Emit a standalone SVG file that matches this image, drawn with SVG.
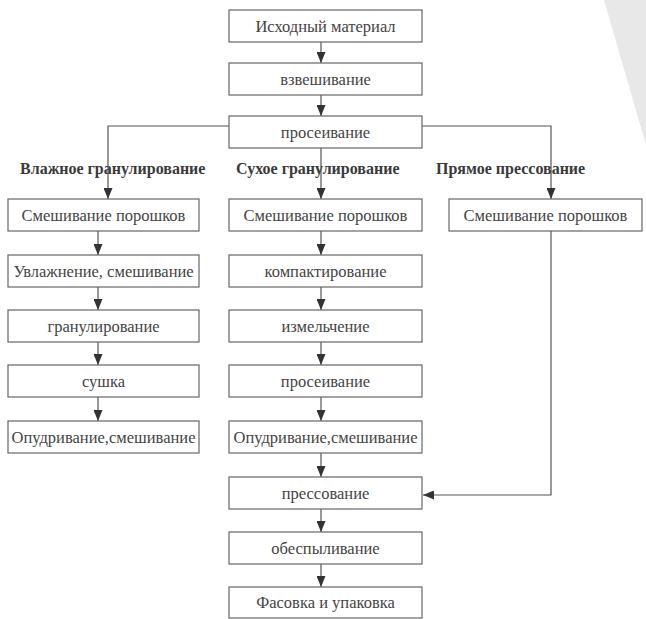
<svg xmlns="http://www.w3.org/2000/svg" width="646" height="619" viewBox="0 0 646 619">
<defs>
<marker id="ah" markerUnits="userSpaceOnUse" markerWidth="11" markerHeight="9" refX="11" refY="4.5" orient="auto">
<path d="M0,0 L11,4.5 L0,9 z" fill="#333"/>
</marker>
<style>
.b{fill:#fff;stroke:#666;stroke-width:1.2}
.t{font-family:"Liberation Serif","DejaVu Serif",serif;font-size:16.5px;fill:#444;text-anchor:middle}
.h{font-family:"Liberation Serif","DejaVu Serif",serif;font-size:16px;font-weight:bold;fill:#3a3a3a}
.c{fill:none;stroke:#555;stroke-width:1.2;marker-end:url(#ah)}
</style>
</defs>
<rect width="646" height="619" fill="#fff"/>
<polygon points="604,0 646,0 646,145" fill="#e8e8e8"/>
<g id="connectors">
<path class="c" d="M321,42 V63"/>
<path class="c" d="M321,95 V116"/>
<path class="c" d="M229,126 H108 V199"/>
<path class="c" d="M422,126 H551 V199"/>
<path class="c" d="M321,148 V199"/>
<path class="c" d="M98,231 V255"/>
<path class="c" d="M98,287 V310"/>
<path class="c" d="M98,342 V365"/>
<path class="c" d="M98,397 V421"/>
<path class="c" d="M321,231 V255"/>
<path class="c" d="M321,287 V310"/>
<path class="c" d="M321,342 V365"/>
<path class="c" d="M321,397 V421"/>
<path class="c" d="M321,453 V477"/>
<path class="c" d="M321,509 V532"/>
<path class="c" d="M321,564 V587"/>
<path class="c" d="M551,231 V495 H423"/>
</g>
<g id="n1"><rect class="b" x="229" y="10" width="193" height="32"/><text class="t" x="325.5" y="31.5">Исходный материал</text></g>
<g id="n2"><rect class="b" x="229" y="63" width="193" height="32"/><text class="t" x="325.5" y="84.5">взвешивание</text></g>
<g id="n3"><rect class="b" x="229" y="116" width="193" height="32"/><text class="t" x="325.5" y="137.5">просеивание</text></g>
<g id="lbl1"><text class="h" x="20" y="174">Влажное гранулирование</text></g>
<g id="lbl2"><text class="h" x="236" y="174">Сухое гранулирование</text></g>
<g id="lbl3"><text class="h" x="436" y="174">Прямое прессование</text></g>
<g id="w1"><rect class="b" x="8" y="199" width="191" height="32"/><text class="t" x="103.5" y="220.5">Смешивание порошков</text></g>
<g id="w2"><rect class="b" x="8" y="255" width="191" height="32"/><text class="t" x="103.5" y="276.5">Увлажнение, смешивание</text></g>
<g id="w3"><rect class="b" x="8" y="310" width="191" height="32"/><text class="t" x="103.5" y="331.5">гранулирование</text></g>
<g id="w4"><rect class="b" x="8" y="365" width="191" height="32"/><text class="t" x="103.5" y="386.5">сушка</text></g>
<g id="w5"><rect class="b" x="8" y="421" width="191" height="32"/><text class="t" x="103.5" y="442.5">Опудривание,смешивание</text></g>
<g id="d1"><rect class="b" x="229" y="199" width="193" height="32"/><text class="t" x="325.5" y="220.5">Смешивание порошков</text></g>
<g id="d2"><rect class="b" x="229" y="255" width="193" height="32"/><text class="t" x="325.5" y="276.5">компактирование</text></g>
<g id="d3"><rect class="b" x="229" y="310" width="193" height="32"/><text class="t" x="325.5" y="331.5">измельчение</text></g>
<g id="d4"><rect class="b" x="229" y="365" width="193" height="32"/><text class="t" x="325.5" y="386.5">просеивание</text></g>
<g id="d5"><rect class="b" x="229" y="421" width="193" height="32"/><text class="t" x="325.5" y="442.5">Опудривание,смешивание</text></g>
<g id="p1"><rect class="b" x="449" y="199" width="193" height="32"/><text class="t" x="545.5" y="220.5">Смешивание порошков</text></g>
<g id="m1"><rect class="b" x="229" y="477" width="193" height="32"/><text class="t" x="325.5" y="498.5">прессование</text></g>
<g id="m2"><rect class="b" x="229" y="532" width="193" height="32"/><text class="t" x="325.5" y="553.5">обеспыливание</text></g>
<g id="m3"><rect class="b" x="229" y="587" width="193" height="31"/><text class="t" x="325.5" y="608">Фасовка и упаковка</text></g>
</svg>
